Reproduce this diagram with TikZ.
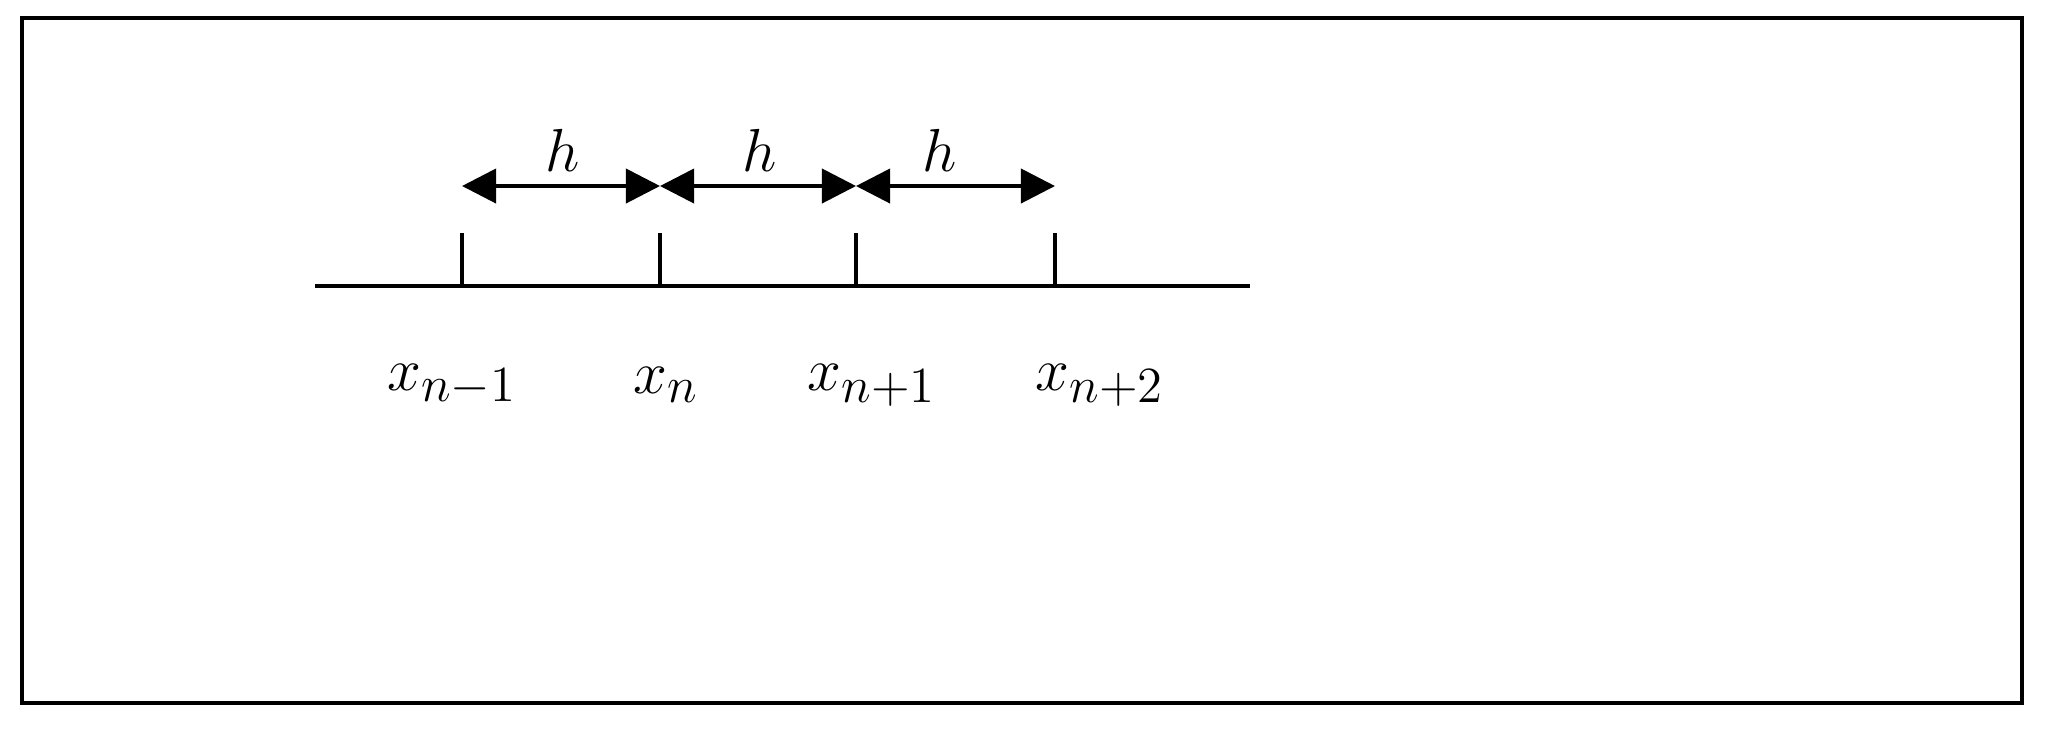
\documentclass[tikz,border=0pt]{standalone}
\usetikzlibrary{arrows.meta}
\begin{document}
\begin{tikzpicture}[x=0.01cm,y=-0.01cm,
  ln/.style={line width=1.1pt},
  dim/.style={line width=1.1pt,{Triangle[length=0.34cm,width=0.34cm]}-{Triangle[length=0.34cm,width=0.34cm]}},
  lbl/.style={font=\fontsize{19}{23}\selectfont}]
\useasboundingbox (0,0) rectangle (2045,729);
\draw[line width=1.3pt] (22,18) rectangle (2022,703);
\coordinate (L) at (315,286); \coordinate (R) at (1250,286);
\draw[ln] (L) -- (R);
\foreach \i/\x in {a/462,b/660,c/856,d/1055}{
  \coordinate (\i0) at (\x,286); \coordinate (\i1) at (\x,233);
  \draw[ln] (\i0) -- (\i1);
  \coordinate (\i2) at (\x,186);
}
\draw[dim] (a2) -- (b2);
\draw[dim] (b2) -- (c2);
\draw[dim] (c2) -- (d2);
\node[lbl] (h1) at (563,150) {$h$};
\node[lbl] (h2) at (760,150) {$h$};
\node[lbl] (h3) at (940,150) {$h$};
\node[lbl] (x1) at (452,385) {$x_{n-1}$};
\node[lbl] (x2) at (666,385) {$x_{n}$};
\node[lbl] (x3) at (872,385) {$x_{n+1}$};
\node[lbl] (x4) at (1100,385) {$x_{n+2}$};
\end{tikzpicture}
\end{document}
